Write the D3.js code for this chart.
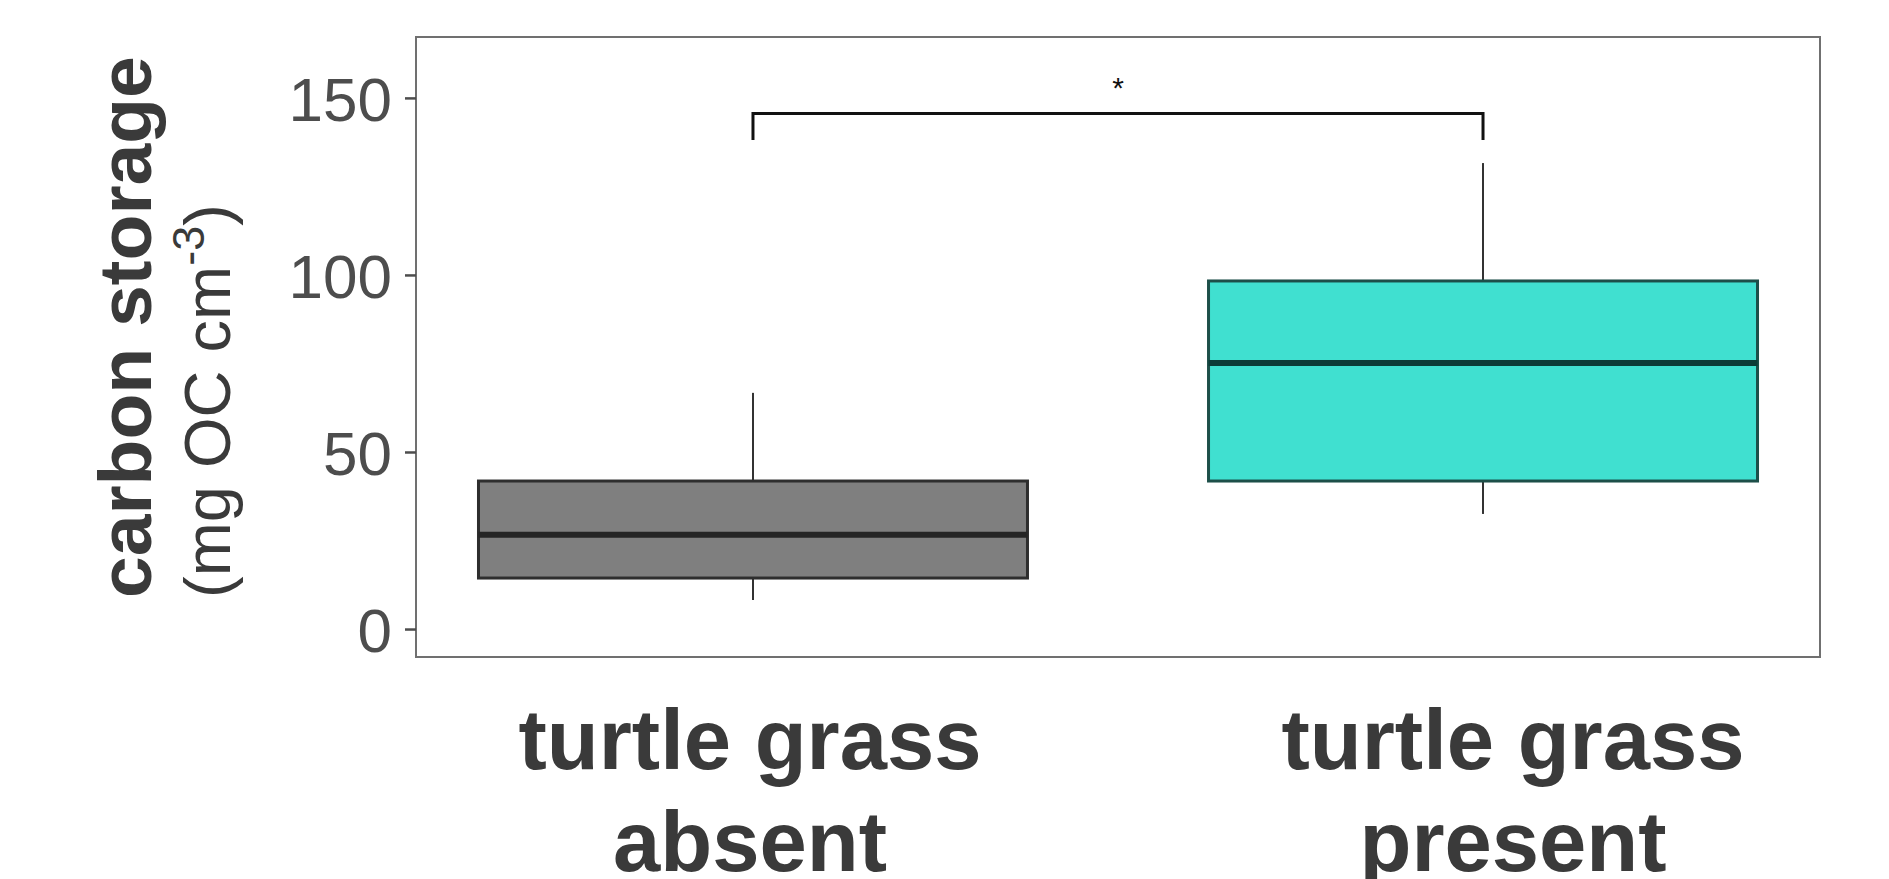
<!DOCTYPE html>
<html>
<head>
<meta charset="utf-8">
<script src="https://cdn.jsdelivr.net/npm/d3@7"></script>
<style>
  html, body { margin: 0; padding: 0; background: #fff; }
  text { font-family: "Liberation Sans", Arial, sans-serif; }
</style>
</head>
<body>
<svg id="chart" width="1889" height="879"></svg>
<script>
// values
const categories = ["absent", "present"];
const labelLines = [
  ["turtle grass", "absent"],
  ["turtle grass", "present"],
];
const whiskerLow = [8.2, 32.5];
const lowerQuartile = [14.4, 41.8];
const medians = [26.6, 75.1];
const upperQuartile = [41.8, 98.3];
const whiskerHigh = [66.7, 131.6];
const yTicks = [0, 50, 100, 150];
const bracketPair = ["absent", "present"];
const bracketLevel = [145.6, 138.1]; // bar, tip bottom
const signifLabel = "*";

const fills = ["#7f7f7f", "#40e0d0"];
const outlines = ["#2e2e2e", "#1d4f49"];
const medianColors = ["#252525", "#0c3c37"];

const svg = d3.select("#chart");

const panel = { left: 416, right: 1820, top: 37, bottom: 657 };

const x = d3
  .scalePoint()
  .domain(categories)
  .range([panel.left, panel.right])
  .padding(0.4616);

const labelX = d3
  .scalePoint()
  .domain(categories)
  .range([750, 1513]);

const y = d3
  .scaleLinear()
  .domain([-7.9, 167.2])
  .range([panel.bottom, panel.top]);

const boxWidth = x.step() * 0.752;

// panel border
svg
  .append("rect")
  .attr("x", panel.left)
  .attr("y", panel.top)
  .attr("width", panel.right - panel.left)
  .attr("height", panel.bottom - panel.top)
  .attr("fill", "none")
  .attr("stroke", "#707070")
  .attr("stroke-width", 2);

// y axis
const yAxis = svg
  .append("g")
  .attr("transform", `translate(${panel.left},0)`)
  .call(d3.axisLeft(y).tickValues(yTicks).tickSize(11).tickPadding(13));

yAxis.select(".domain").remove();
yAxis.selectAll(".tick line").attr("stroke", "#4d4d4d").attr("stroke-width", 2.5);
yAxis
  .selectAll(".tick text")
  .attr("fill", "#4d4d4d")
  .attr("font-size", 62)
  .attr("dy", "0.36em")
  .attr("font-family", "Liberation Sans, Arial, sans-serif");

// boxes
const boxes = svg
  .append("g")
  .selectAll("g")
  .data(categories)
  .join("g");

boxes
  .append("line")
  .attr("x1", (d) => x(d))
  .attr("x2", (d) => x(d))
  .attr("y1", (d, i) => y(upperQuartile[i]))
  .attr("y2", (d, i) => y(whiskerHigh[i]))
  .attr("stroke", "#333")
  .attr("stroke-width", 2);

boxes
  .append("line")
  .attr("x1", (d) => x(d))
  .attr("x2", (d) => x(d))
  .attr("y1", (d, i) => y(lowerQuartile[i]))
  .attr("y2", (d, i) => y(whiskerLow[i]))
  .attr("stroke", "#333")
  .attr("stroke-width", 2);

boxes
  .append("rect")
  .attr("x", (d) => x(d) - boxWidth / 2)
  .attr("width", boxWidth)
  .attr("y", (d, i) => y(upperQuartile[i]))
  .attr("height", (d, i) => y(lowerQuartile[i]) - y(upperQuartile[i]))
  .attr("fill", (d, i) => fills[i])
  .attr("stroke", (d, i) => outlines[i])
  .attr("stroke-width", 3);

boxes
  .append("line")
  .attr("x1", (d) => x(d) - boxWidth / 2)
  .attr("x2", (d) => x(d) + boxWidth / 2)
  .attr("y1", (d, i) => y(medians[i]))
  .attr("y2", (d, i) => y(medians[i]))
  .attr("stroke", (d, i) => medianColors[i])
  .attr("stroke-width", 6);

// significance bracket
const bx1 = x(bracketPair[0]),
  bx2 = x(bracketPair[1]);
svg
  .append("path")
  .attr(
    "d",
    `M${bx1},${y(bracketLevel[1])}V${y(bracketLevel[0])}H${bx2}V${y(bracketLevel[1])}`
  )
  .attr("fill", "none")
  .attr("stroke", "#111")
  .attr("stroke-width", 3);

svg
  .append("text")
  .attr("x", (bx1 + bx2) / 2)
  .attr("y", y(bracketLevel[0]) - 15)
  .attr("text-anchor", "middle")
  .attr("font-size", 30)
  .attr("fill", "#111")
  .text(signifLabel);

// x category labels
const xLabels = svg
  .append("g")
  .selectAll("text")
  .data(categories)
  .join("text")
  .attr("text-anchor", "middle")
  .attr("font-size", 85)
  .attr("font-weight", "bold")
  .attr("fill", "#3a3a3a")
  .attr("transform", (d) => `translate(${labelX(d)},769)`);

xLabels
  .selectAll("tspan")
  .data((d, i) => labelLines[i])
  .join("tspan")
  .attr("x", 0)
  .attr("y", (d, i) => i * 102)
  .text((d) => d);

// y axis title
svg
  .append("text")
  .attr("transform", "translate(151,598) rotate(-90)")
  .attr("font-size", 75)
  .attr("font-weight", "bold")
  .attr("fill", "#3a3a3a")
  .text("carbon storage");

const sub = svg
  .append("text")
  .attr("transform", "translate(230,598) rotate(-90)")
  .attr("font-size", 65)
  .attr("fill", "#3a3a3a");
sub.append("tspan").text("(mg OC cm");
sub.append("tspan").attr("font-size", 45).attr("dy", -26).text("-3");
sub.append("tspan").attr("dy", 26).text(")");
</script>
</body>
</html>
